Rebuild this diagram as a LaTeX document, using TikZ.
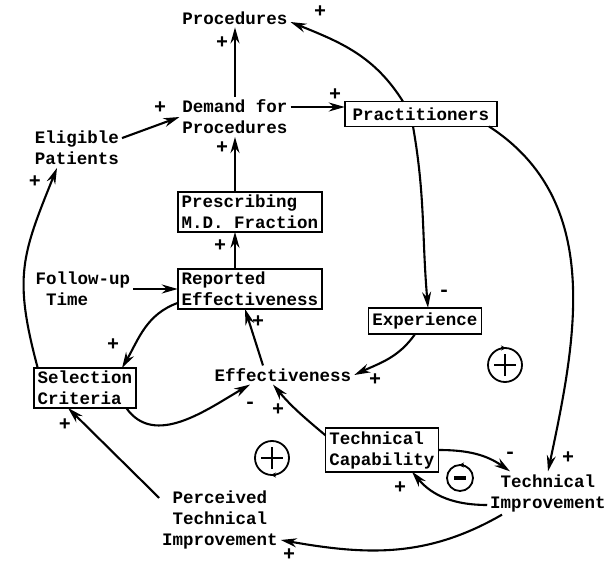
\documentclass[tikz,border=0pt]{standalone}
\usepackage{fontspec}
\setmonofont{Liberation Mono}
\usetikzlibrary{arrows.meta}

\begin{document}
\begin{tikzpicture}[x=1pt, y=1pt, font=\ttfamily\bfseries\fontsize{17.5}{21}\selectfont,
	every node/.style={inner sep=3pt, outer sep=0pt},
	box/.style={draw, line width=1.8pt, inner xsep=4pt, inner ysep=3pt, align=left},
	sgn/.style={inner sep=0pt, font=\ttfamily\bfseries\fontsize{20}{20}\selectfont},
	arr/.style={line width=2.1pt, -{Stealth[length=16pt, width=9pt]}},
	loopsign/.style={draw, circle, line width=1.8pt, minimum size=34pt, inner sep=0pt},
	cross/.style={line width=1.6pt}]
	
	\useasboundingbox (0,0) rectangle (611,-564);
	
	% Variablen
	\node (proc) at (235, -18) {Procedures};
	\node[align=center] (dem) at (235, -117) {Demand for\\Procedures};
	\node[align=left] (elig) at (77, -148) {Eligible\\Patients};
	\node[box, inner xsep=8pt, inner ysep=6pt] (prac) at (421, -114) {Practitioners};
	\node[box] (presc) at (250, -212) {Prescribing\\M.D. Fraction};
	\node[box] (rep) at (250, -289) {Reported\\Effectiveness};
	\node[align=left] (fol) at (83, -289) {Follow-up\\\phantom{x}Time};
	\node[box] (sel) at (85, -388) {Selection\\Criteria};
	\node (eff) at (283, -375) {Effectiveness};
	\node[box, inner ysep=5pt] (exp) at (425, -321) {Experience};
	\node[box] (tcap) at (382, -450) {Technical\\Capability};
	\node[align=center] (timp) at (548, -493) {Technical\\Improvement};
	\node[align=center] (perc) at (220, -520) {Perceived\\Technical\\Improvement};
	
	% Kausalpfeile
	\draw[arr] (dem) -- (proc);
	\draw[arr] ([yshift=-10pt]elig.north east) -- (dem.west);
	\draw[arr] ([yshift=10pt]dem.east) -- ([yshift=7pt]prac.west);
	\draw[arr] ([xshift=-18pt]prac.north) to[out=122, in=-22] ([yshift=-4pt]proc.east);
	\draw[arr] ([xshift=-8pt]prac.south) to[out=-80, in=95] ([xshift=3pt]exp.north);
	\draw[arr] ([xshift=68pt]prac.south) to[out=-33, in=78] (timp.north);
	\draw[arr] ([xshift=-15pt]presc.north) -- (dem.south);
	\draw[arr] ([xshift=-15pt]rep.north) -- ([xshift=-15pt]presc.south);
	\draw[arr] (fol.east) -- (rep.west);
	\draw[arr] ([yshift=6pt]rep.south west) to[out=200, in=60] ([xshift=37pt]sel.north);
	\draw[arr] ([xshift=4pt]sel.north west) to[out=105, in=-112, looseness=1.2] ([xshift=-20pt]elig.south);
	\draw[arr] ([xshift=-20pt]eff.north) -- ([xshift=-5pt]rep.south);
	\draw[arr] ([xshift=-10pt]exp.south) to[out=-125, in=25] (eff.east);
	\draw[arr] ([xshift=-10pt]sel.south east) to[out=-55, in=210] ([xshift=-33pt]eff.south);
	\draw[arr] ([yshift=-7pt]tcap.north west) to[out=140, in=-50] ([xshift=-10pt]eff.south);
	\draw[arr] (tcap.east) to[out=0, in=145] ([xshift=-38pt]timp.north);
	\draw[arr] ([yshift=-12pt]timp.west) to[out=180, in=-50] ([xshift=30pt]tcap.south);
	\draw[arr] ([xshift=-46pt]timp.south) to[out=210, in=-10] ([yshift=-20pt]perc.east);
	\draw[arr] ([yshift=22pt]perc.west) -- ([xshift=-17pt]sel.south);
	
	% Vorzeichen
	\node[sgn] (s1) at (222, -43) {+};
	\node[sgn] (s2) at (320, -12) {+};
	\node[sgn] (s3) at (160, -108) {+};
	\node[sgn] (s4) at (335, -95) {+};
	\node[sgn] (s5) at (222, -148) {+};
	\node[sgn] (s6) at (220, -246) {+};
	\node[sgn] (s7) at (444, -293) {-};
	\node[sgn] (s8) at (113, -345) {+};
	\node[sgn] (s9) at (35, -182) {+};
	\node[sgn] (s10) at (258, -322) {+};
	\node[sgn] (s11) at (375, -380) {+};
	\node[sgn] (s12) at (250, -405) {-};
	\node[sgn] (s13) at (278, -410) {+};
	\node[sgn] (s14) at (568, -458) {+};
	\node[sgn] (s15) at (510, -455) {-};
	\node[sgn] (s16) at (400, -488) {+};
	\node[sgn] (s17) at (289, -555) {+};
	\node[sgn] (s18) at (65, -425) {+};
	
	% Schleifen
	\node[loopsign] (lpa) at (505, -365) {};
	\node[loopsign] (lpb) at (272, -458) {};
	\node[loopsign, minimum size=26pt] (lpc) at (460, -478) {};
	\draw[cross] ([xshift=-11pt]lpa.center) -- ([xshift=11pt]lpa.center) ([yshift=-11pt]lpa.center) -- ([yshift=11pt]lpa.center);
	\draw[cross] ([xshift=-11pt]lpb.center) -- ([xshift=11pt]lpb.center) ([yshift=-11pt]lpb.center) -- ([yshift=11pt]lpb.center);
	\draw[line width=4pt] ([xshift=-6pt]lpc.center) -- ([xshift=6pt]lpc.center);
	\draw[line width=1.2pt, -{Stealth[length=5pt, width=5pt]}] ([xshift=-4pt]lpa.north) -- ([xshift=1pt]lpa.north);
	\draw[line width=1.2pt, -{Stealth[length=5pt, width=5pt]}] ([xshift=4pt]lpb.south) -- ([xshift=-1pt]lpb.south);
	\draw[line width=1.2pt, -{Stealth[length=5pt, width=5pt]}] ([xshift=4pt]lpc.north) -- ([xshift=-1pt]lpc.north);
\end{tikzpicture}
\end{document}
